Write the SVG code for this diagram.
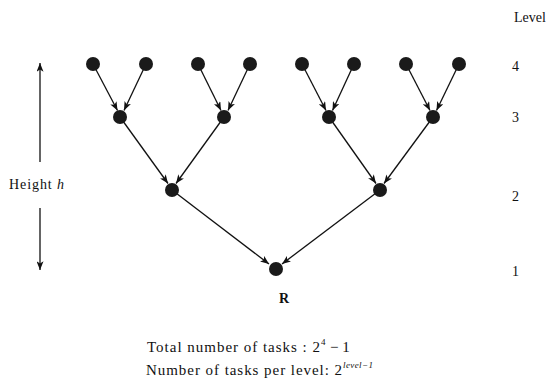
<svg xmlns="http://www.w3.org/2000/svg" width="550" height="382" viewBox="0 0 550 382">
<defs>
<marker id="ah" viewBox="0 0 10 8" refX="10" refY="4" markerWidth="9" markerHeight="7" markerUnits="userSpaceOnUse" orient="auto">
<path d="M0,0 L10,4 L0,8 L2.5,4 Z" fill="#111"/>
</marker>
</defs>
<style>
.n{fill:#1a1a1a}
.e{stroke:#111;stroke-width:1.3;fill:none;marker-end:url(#ah)}
.t{font-family:"Liberation Serif",serif;font-size:14px;fill:#111}
.b{font-size:15px}
.s{font-size:9px}
</style>
<rect width="550" height="382" fill="#fff"/>
<g id="connectors">
<line class="e" x1="93" y1="64" x2="117.5" y2="110.5"/>
<line class="e" x1="146" y1="64" x2="124" y2="110.5"/>
<line class="e" x1="198" y1="64" x2="221" y2="110.5"/>
<line class="e" x1="250" y1="64" x2="228" y2="110.5"/>
<line class="e" x1="302" y1="64" x2="326" y2="110.5"/>
<line class="e" x1="354" y1="64" x2="332.5" y2="110.5"/>
<line class="e" x1="406" y1="64" x2="430" y2="110.5"/>
<line class="e" x1="459" y1="64" x2="436.5" y2="110.5"/>
<line class="e" x1="120" y1="117" x2="168" y2="183.5"/>
<line class="e" x1="224" y1="117" x2="176" y2="183.5"/>
<line class="e" x1="329" y1="117" x2="376" y2="183.5"/>
<line class="e" x1="433" y1="117" x2="384" y2="183.5"/>
<line class="e" x1="172" y1="190" x2="269" y2="264"/>
<line class="e" x1="380" y1="190" x2="282" y2="264"/>
<line class="e" x1="40" y1="162" x2="40" y2="63"/>
<line class="e" x1="40" y1="208" x2="40" y2="270"/>
</g>
<g id="level4">
<circle id="n4a" class="n" cx="93" cy="64" r="7"/>
<circle id="n4b" class="n" cx="146" cy="64" r="7"/>
<circle id="n4c" class="n" cx="198" cy="64" r="7"/>
<circle id="n4d" class="n" cx="250" cy="64" r="7"/>
<circle id="n4e" class="n" cx="302" cy="64" r="7"/>
<circle id="n4f" class="n" cx="354" cy="64" r="7"/>
<circle id="n4g" class="n" cx="406" cy="64" r="7"/>
<circle id="n4h" class="n" cx="459" cy="64" r="7"/>
</g>
<g id="level3">
<circle id="n3a" class="n" cx="120" cy="117" r="7"/>
<circle id="n3b" class="n" cx="224" cy="117" r="7"/>
<circle id="n3c" class="n" cx="329" cy="117" r="7"/>
<circle id="n3d" class="n" cx="433" cy="117" r="7"/>
</g>
<g id="level2">
<circle id="n2a" class="n" cx="172" cy="190" r="7"/>
<circle id="n2b" class="n" cx="380" cy="190" r="7"/>
</g>
<g id="root">
<circle id="n1" class="n" cx="276" cy="269" r="7"/>
<text class="t" x="284" y="303" text-anchor="middle" font-weight="bold" font-size="13">R</text>
</g>
<g id="labels">
<text class="t" x="9" y="189" textLength="55" lengthAdjust="spacing">Height <tspan font-style="italic">h</tspan></text>
<text class="t" x="514" y="22" textLength="32" lengthAdjust="spacing">Level</text>
<text class="t" x="512" y="71">4</text>
<text class="t" x="512" y="122">3</text>
<text class="t" x="512" y="201">2</text>
<text class="t" x="512" y="276">1</text>
<text class="t b" x="147" y="352" textLength="173" lengthAdjust="spacing">Total number of tasks : 2</text>
<text class="t s" x="321" y="345">4</text>
<text class="t b" x="330" y="352">− 1</text>
<text class="t b" x="146" y="375" textLength="196" lengthAdjust="spacing">Number of tasks per level: 2</text>
<text class="t s" x="343" y="368" font-style="italic" textLength="30" lengthAdjust="spacing">level−1</text>
</g>
</svg>
